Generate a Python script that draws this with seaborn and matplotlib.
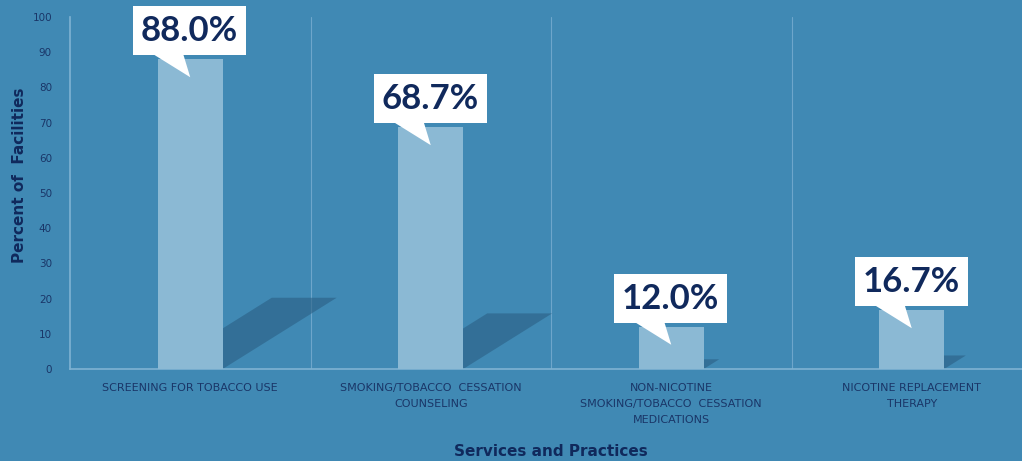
import pandas as pd
import seaborn as sns
import matplotlib.pyplot as plt
from matplotlib.patches import Polygon, Rectangle
from matplotlib.transforms import ScaledTranslation

# chart data
categories = [
    'SCREENING FOR TOBACCO USE',
    'SMOKING/TOBACCO  CESSATION\nCOUNSELING',
    'NON-NICOTINE\nSMOKING/TOBACCO  CESSATION\nMEDICATIONS',
    'NICOTINE REPLACEMENT\nTHERAPY',
]
percent = [88.0, 68.7, 12.0, 16.7]
labels = ['88.0%', '68.7%', '12.0%', '16.7%']

bg = '#4089b4'
bar_color = '#8bb9d4'
navy = '#10295c'

df = pd.DataFrame({'service': categories, 'pct': percent})

sns.set_style('white')
plt.rcParams['font.family'] = ['DejaVu Sans']

fig = plt.figure(figsize=(10.22, 4.61), dpi=100, facecolor=bg)
ax = fig.add_axes([70 / 1022, 92 / 461, 962 / 1022, 352 / 461])
ax.set_facecolor(bg)

bw = 0.27
sns.barplot(data=df, x='service', y='pct', color=bar_color, saturation=1,
            width=bw, linewidth=0, ax=ax, zorder=3)

ax.set_xlim(-0.5, 3.5)
ax.set_ylim(0, 100)
ax.set_yticks(range(0, 101, 10))

# skewed drop shadows behind bars
for i, v in enumerate(percent):
    h = 0.23 * v
    dx = 1.6 * h * 3.52 / 240.6
    pts = [(i - bw / 2, 0), (i + bw / 2, 0),
           (i + bw / 2 + dx, h), (i - bw / 2 + dx, h)]
    ax.add_patch(Polygon(pts, closed=True, facecolor='#2b5f84', alpha=0.6,
                         edgecolor='none', zorder=2))

# category separators
for x in [0.5, 1.5, 2.5, 3.5]:
    ax.axvline(x, color='#6ea6cb', lw=0.8, zorder=1)

for s in ['top', 'right']:
    ax.spines[s].set_visible(False)
for s in ['left', 'bottom']:
    ax.spines[s].set_color('#7fb3d3')
    ax.spines[s].set_linewidth(1.2)

ax.tick_params(axis='both', length=0, colors='#1a3668')
ax.tick_params(axis='y', labelsize=7.5, pad=13)
ax.tick_params(axis='x', labelsize=8, pad=10)
for t in ax.get_xticklabels():
    t.set_linespacing(1.75)

ax.set_xlabel('Services and Practices', fontsize=11, fontweight='bold',
              color=navy)
ax.xaxis.set_label_coords(0.5, -0.212)
ax.set_ylabel('Percent of  Facilities', fontsize=11, fontweight='bold',
              color=navy)
ax.yaxis.set_label_coords(-0.045, 0.55)

# callout boxes (offsets in inches from bar top)
for i, (v, lab) in enumerate(zip(percent, labels)):
    tr = fig.dpi_scale_trans + ScaledTranslation(i, v, ax.transData)
    ax.add_patch(Rectangle((-0.57, 0.04), 1.13, 0.49, transform=tr,
                           facecolor='white', edgecolor='none', zorder=5,
                           clip_on=False))
    ax.add_patch(Polygon([(-0.37, 0.05), (-0.07, 0.05), (0.0, -0.18)],
                         closed=True, transform=tr, facecolor='white',
                         edgecolor='none', zorder=5, clip_on=False))
    ax.text(-0.005, 0.28, lab, transform=tr, ha='center', va='center',
            fontsize=25, fontweight='bold', color=navy, family='Lato',
            zorder=6)

fig.savefig('out.png', dpi=100, facecolor=bg)
